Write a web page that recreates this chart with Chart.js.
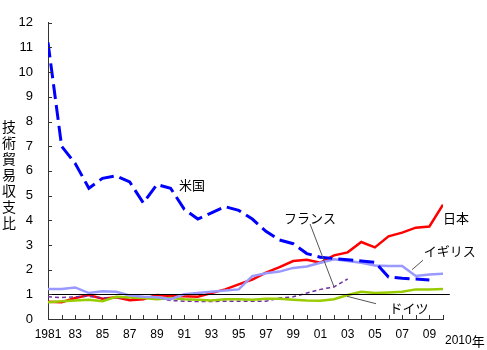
<!DOCTYPE html>
<html><head><meta charset="utf-8">
<script src="https://cdn.jsdelivr.net/npm/chart.js@4/dist/chart.umd.min.js"></script>
<style>html,body{margin:0;padding:0;background:#fff;}#wrap{width:487px;height:350px;position:relative;}</style>
</head><body><div id="wrap"><canvas id="c" width="487" height="350"></canvas></div>
<script>
const years = [1981,1982,1983,1984,1985,1986,1987,1988,1989,1990,1991,1992,1993,1994,1995,1996,1997,1998,1999,2000,2001,2002,2003,2004,2005,2006,2007,2008,2009,2010];
const usa     = [11.2,7.0,6.3,5.3,5.7,5.8,5.55,4.7,5.45,5.3,4.45,4.05,4.3,4.55,4.4,4.05,3.55,3.2,3.05,2.65,2.5,2.45,2.4,2.35,2.3,1.7,1.65,1.62,1.58,null];
const japan   = [0.7,0.68,0.85,0.97,0.82,0.88,0.76,0.8,0.97,0.93,0.92,0.9,1.05,1.2,1.4,1.6,1.88,2.1,2.35,2.4,2.28,2.58,2.7,3.12,2.9,3.35,3.5,3.7,3.75,4.63];
const uk      = [1.22,1.22,1.28,1.05,1.12,1.1,0.95,0.9,0.88,0.8,1.0,1.05,1.1,1.15,1.2,1.74,1.85,1.92,2.07,2.13,2.28,2.42,2.35,2.28,2.17,2.15,2.15,1.74,1.8,1.83];
const france  = [0.9,0.87,0.9,0.92,0.85,0.85,0.85,0.85,0.85,0.75,0.72,0.71,0.71,0.72,0.72,0.72,0.72,0.85,0.9,1.05,1.2,1.3,1.62,null,null,null,null,null,null,null];
const germany = [0.68,0.72,0.75,0.78,0.72,0.9,0.87,0.85,0.8,0.85,0.8,0.78,0.75,0.8,0.8,0.78,0.82,0.82,0.78,0.75,0.74,0.8,0.97,1.1,1.05,1.07,1.1,1.2,1.2,1.22];
const yTicks = [0,1,2,3,4,5,6,7,8,9,10,11,12];
const yTitle = ['技','術','貿','易','収','支','比'];
const notes = [
  {text:'米国', x:1991.57, y:5.42},
  {text:'フランス', x:2000.24, y:4.08, line:[2000.24,3.85,2002,1.3]},
  {text:'日本', x:2010.96, y:4.08},
  {text:'イギリス', x:2010.5, y:2.77, line:[2008.53,2.38,2007.73,2.0]},
  {text:'ドイツ', x:2007.5, y:0.46, line:[2005.08,0.62,2002.95,0.92]}
];

function pts(arr){ return years.map((yr,i)=>({x:yr,y:arr[i]})); }

const deco = {
  id:'deco',
  afterDatasetsDraw(chart){
    const ctx = chart.ctx, xs = chart.scales.x, ys = chart.scales.y, a = chart.chartArea;
    ctx.save();
    ctx.strokeStyle = '#000'; ctx.lineWidth = 1;
    ctx.beginPath();
    const y1 = Math.round(ys.getPixelForValue(1)) + 0.5;
    ctx.moveTo(a.left, y1); ctx.lineTo(xs.getPixelForValue(2010.5), y1); ctx.stroke();
    ctx.strokeStyle = '#333';
    years.forEach(yr=>{
      const px = Math.round(xs.getPixelForValue(yr)) + 0.5;
      ctx.beginPath(); ctx.moveTo(px, a.bottom); ctx.lineTo(px, a.bottom - 4); ctx.stroke();
    });
    yTicks.forEach(v=>{
      const py = Math.round(ys.getPixelForValue(v)) + 0.5;
      ctx.beginPath(); ctx.moveTo(a.left, py); ctx.lineTo(a.left + 4, py); ctx.stroke();
    });
    ctx.fillStyle = '#000';
    ctx.font = '13px "Noto Sans CJK JP"';
    ctx.textAlign = 'center'; ctx.textBaseline = 'middle';
    notes.forEach(n=>{
      ctx.fillText(n.text, xs.getPixelForValue(n.x), ys.getPixelForValue(n.y));
      if (n.line){
        ctx.strokeStyle = '#555'; ctx.lineWidth = 1;
        ctx.beginPath();
        ctx.moveTo(xs.getPixelForValue(n.line[0]), ys.getPixelForValue(n.line[1]));
        ctx.lineTo(xs.getPixelForValue(n.line[2]), ys.getPixelForValue(n.line[3]));
        ctx.stroke();
      }
    });
    ctx.font = '14px "Noto Sans CJK JP"';
    yTitle.forEach((ch,i)=>{ ctx.fillText(ch, 9, 127 + i*16); });
    ctx.textAlign = 'left';
    ctx.font = '12px "Liberation Sans"';
    ctx.fillText('2010', 445, 341);
    const w = ctx.measureText('2010').width;
    ctx.font = '13px "Noto Sans CJK JP"';
    ctx.fillText('年', 445 + w, 341);
    ctx.restore();
  }
};

new Chart(document.getElementById('c'), {
  type:'line',
  data:{ datasets:[
    {label:'米国', data:pts(usa), borderColor:'#0000ff', borderWidth:3, borderDash:[15,6], pointRadius:0, tension:0},
    {label:'イギリス', data:pts(uk), borderColor:'#9999ff', borderWidth:2.5, pointRadius:0, tension:0},
    {label:'ドイツ', data:pts(germany), borderColor:'#99cc00', borderWidth:2.5, pointRadius:0, tension:0},
    {label:'フランス', data:pts(france), borderColor:'#7030a0', borderWidth:1.5, borderDash:[4,3], pointRadius:0, tension:0},
    {label:'日本', data:pts(japan), borderColor:'#ff0000', borderWidth:2.5, pointRadius:0, tension:0}
  ]},
  options:{
    responsive:false, animation:false,
    layout:{padding:{top:7,right:44,left:0,bottom:0}},
    plugins:{legend:{display:false}, tooltip:{enabled:false}},
    scales:{
      x:{type:'linear', min:1981, max:2010,
         grid:{display:false, drawTicks:false}, border:{display:true,color:'#333',width:1},
         afterFit(s){ s.height = 31; },
         afterBuildTicks(s){ s.ticks = years.map(v=>({value:v})); },
         ticks:{autoSkip:false, maxRotation:0, padding:8, color:'#000', font:{family:'"Liberation Sans"', size:12},
           callback:(v)=> v===1981 ? '1981' : (v<2010 && v%2===1 ? String(v).slice(2) : '')}},
      y:{min:0, max:12,
         grid:{display:false, drawTicks:false}, border:{display:true,color:'#333',width:1},
         afterFit(s){ s.width = 48; },
         afterBuildTicks(s){ s.ticks = yTicks.map(v=>({value:v})); },
         ticks:{padding:15, color:'#000', font:{family:'"Liberation Sans"', size:13}}}
    }
  },
  plugins:[deco]
});
</script></body></html>
